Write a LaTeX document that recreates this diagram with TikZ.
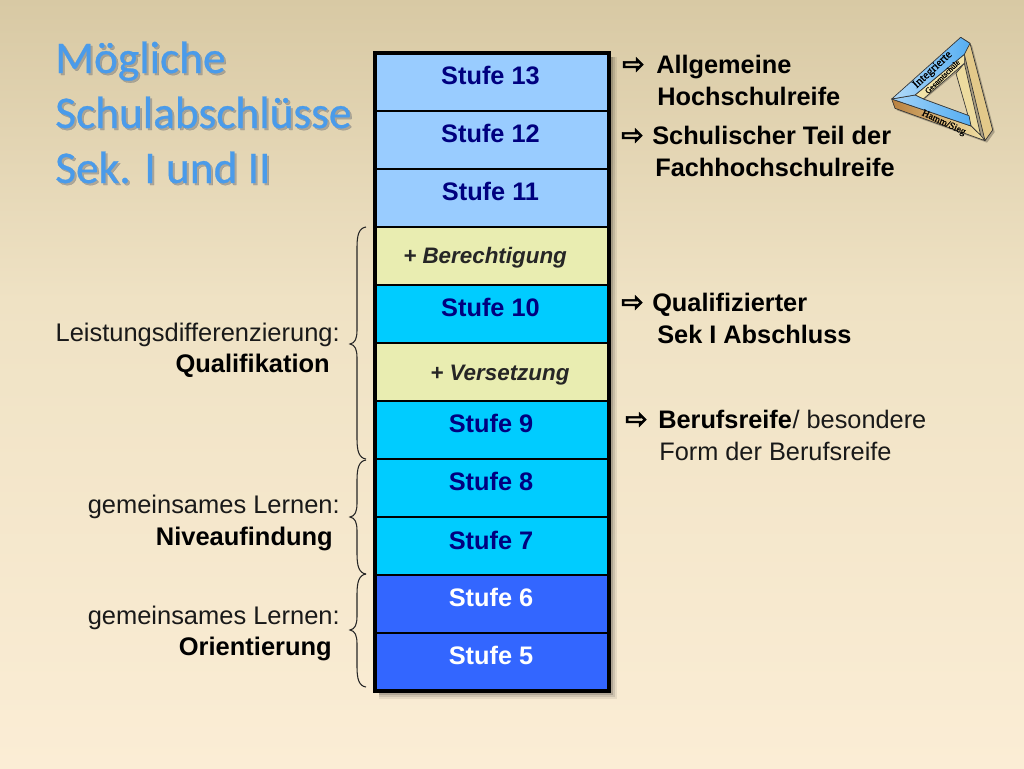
\documentclass[tikz,border=0pt]{standalone}
\usepackage{fontspec}
\setmainfont{Liberation Sans}
\newfontfamily\titlefont[FakeBold=0.6]{Carlito}
\newfontfamily\symfont[FakeBold=2]{DejaVu Sans}
\newfontfamily\logofont[FakeBold=1]{Liberation Serif}
\definecolor{bgtop}{HTML}{D8C9A4}
\definecolor{bgmid}{HTML}{EFE2C4}
\definecolor{bgbot}{HTML}{FBEDD5}
\definecolor{rowlight}{HTML}{99CCFF}
\definecolor{rowcream}{HTML}{E9EDB1}
\definecolor{rowcyan}{HTML}{00CCFF}
\definecolor{rowblue}{HTML}{3366FF}
\definecolor{navytext}{HTML}{00007F}
\definecolor{titleblue}{HTML}{4A9BEA}
\definecolor{logogold}{HTML}{E3C98A}
\definecolor{logobrown}{HTML}{B9803F}
\definecolor{logocream}{HTML}{F2E3A8}
\definecolor{logoblue}{HTML}{55AEF2}
\tikzset{
  x=0.75pt,y=-0.75pt,
  rowbox/.style={draw=black,line width=1.1pt,minimum width=175.5pt,minimum height=43.5pt,inner sep=0pt,outer sep=0pt,anchor=north west},
  stufe/.style={font=\fontsize{19}{19}\selectfont\bfseries,text=navytext,inner sep=0pt,anchor=base},
  stufew/.style={stufe,text=white},
  extra/.style={font=\fontsize{16.8}{17}\selectfont\bfseries\itshape,text=black!85,inner sep=0pt,anchor=base west},
  rtext/.style={font=\fontsize{19}{19}\selectfont\bfseries,text=black,inner sep=0pt,anchor=base west},
  rplain/.style={font=\fontsize{19}{19}\selectfont,text=black!90,inner sep=0pt,anchor=base west},
  ltext/.style={font=\fontsize{19.1}{19}\selectfont,text=black!90,inner sep=0pt,anchor=base east},
  lbold/.style={font=\fontsize{19.1}{19}\selectfont\bfseries,text=black,inner sep=0pt,anchor=base east},
  titletext/.style={font=\fontsize{34}{34}\selectfont\titlefont,inner sep=0pt,anchor=base west},
  bracecurve/.style={draw=black!85,line width=0.8pt},
  logoface/.style={draw=black!80,line width=0.5pt,line join=round},
  logotext/.style={text=black,inner sep=0pt}
}
\newcommand{\titleline}[3]{%
  \node[titletext,text=black!50,opacity=.55] at (#1+2,#2+2) {#3};
  \node[titletext,text=titleblue] (#3) at (#1,#2) {#3};}
\newcommand{\arrowglyph}[2]{\node[rtext] at (#1,#2) {{\symfont\fontsize{20}{20}\selectfont ⇨}};}
\newcommand{\curlybrace}[4]{% name, top, mid, bottom
  \coordinate (#1a) at (366,#2);
  \coordinate (#1b) at (350,#3);
  \coordinate (#1c) at (366,#4);
  \draw[bracecurve] (#1a) .. controls (359,#2+1) and (357,#2+8) .. (357,#2+20)
    -- (357,#3-14) .. controls (357,#3-5) and (355,#3-1) .. (#1b)
    .. controls (355,#3+1) and (357,#3+5) .. (357,#3+14)
    -- (357,#4-20) .. controls (357,#4-8) and (359,#4-1) .. (#1c);}
\begin{document}
\begin{tikzpicture}
\useasboundingbox (0,0) rectangle (1024,768);
\fill[top color=bgtop,bottom color=bgmid] (0,0) rectangle (1024,300);
\fill[top color=bgmid,bottom color=bgbot] (0,299.5) rectangle (1024,768);

% title
\titleline{55}{73}{Mögliche}
\titleline{55}{128}{Schulabschlüsse}
\titleline{55}{183}{Sek. I und II}

% shadow of the column
\fill[black,opacity=.07] (379,57) rectangle (617,699);
\fill[black,opacity=.10] (379,57) rectangle (615,697);
\fill[black,opacity=.15] (379,57) rectangle (613,695);

% column
\foreach \nm/\yy/\cc in {s13/53/rowlight,s12/111/rowlight,s11/169/rowlight,
  b/227/rowcream,s10/285/rowcyan,v/343/rowcream,s9/401/rowcyan,s8/459/rowcyan,
  s7/517/rowcyan,s6/575/rowblue,s5/633/rowblue}
  \node[rowbox,fill=\cc] (\nm) at (375,\yy) {};
\draw[black,line width=2.4pt] (s13.north west) rectangle (s5.south east);

\node[stufe] at (490.5,84) {Stufe 13};
\node[stufe] at (490.5,142) {Stufe 12};
\node[stufe] at (490.5,200) {Stufe 11};
\node[extra] at (403,263) {+ Berechtigung};
\node[stufe] at (490.5,316) {Stufe 10};
\node[extra] at (430,380) {+ Versetzung};
\node[stufe] at (491,432) {Stufe 9};
\node[stufe] at (491,490) {Stufe 8};
\node[stufe] at (491,549) {Stufe 7};
\node[stufew] at (491,606) {Stufe 6};
\node[stufew] at (491,664) {Stufe 5};

% braces
\curlybrace{ba}{227}{344}{459}
\curlybrace{bb}{460}{517}{574}
\curlybrace{bc}{574}{630}{687}

% left labels
\node[ltext] at (340,341) {Leistungsdifferenzierung:};
\node[lbold] at (330,372) {Qualifikation};
\node[ltext] at (340,513) {gemeinsames Lernen:};
\node[lbold] at (333,545) {Niveaufindung};
\node[ltext] at (340,624) {gemeinsames Lernen:};
\node[lbold] at (332,655) {Orientierung};

% right labels
\arrowglyph{622}{73}
\node[rtext] at (656,73) {Allgemeine};
\node[rtext] at (657,105) {Hochschulreife};
\arrowglyph{621}{144}
\node[rtext] at (652,144) {Schulischer Teil der};
\node[rtext] at (655,176) {Fachhochschulreife};
\arrowglyph{621}{311}
\node[rtext] at (652,311) {Qualifizierter};
\node[rtext] at (657,343) {Sek I Abschluss};
\arrowglyph{625}{428}
\node[rtext] (br) at (658,428) {Berufsreife};
\node[rplain,anchor=base west] at (br.base east) {/ besondere};
\node[rplain] at (659,460) {Form der Berufsreife};

% logo (impossible triangle)
\begin{scope}[shift={(870,20)},x=0.25pt,y=-0.25pt]
\fill[black,opacity=.25,even odd rule] (71,243) -- (278,58) -- (306,76) -- (374,336) -- (351,368) -- (81,271) -- cycle
   (165,237) -- (258,160) -- (297,287) -- cycle;
\fill[logogold,logoface] (272,52) -- (300,70) -- (368,330) -- (345,362) -- (283,103) -- cycle;
\fill[logocream!70!logogold,logoface] (283,130) -- (332,346) -- (303,318) -- (258,160) -- cycle;
\fill[logocream,logoface] (135,225) -- (283,103) -- (283,130) -- (160,237) -- cycle;
\shade[logoface,left color=logobrown,right color=logocream] (65,237) -- (303,318) -- (332,346) -- (345,362) -- (75,265) -- cycle;
\shade[logoface,left color=logoblue!55!white,right color=logoblue] (65,237) -- (135,225) -- (160,237) -- (297,287) -- (303,318) -- cycle;
\shade[logoface,left color=logoblue!45!white,right color=logoblue] (65,237) -- (272,52) -- (300,70) -- (283,103) -- (135,225) -- cycle;
\node[logotext,font=\fontsize{8.8}{9}\selectfont\logofont,rotate=43] at (188,150) {Integrierte};
\node[logotext,font=\fontsize{6}{6}\selectfont\logofont,rotate=44] at (217,170) {Gesamtschule};
\node[logotext,font=\fontsize{7.4}{8}\selectfont\logofont,rotate=-25] at (221,309) {Hamm/Sieg};
\end{scope}
\end{tikzpicture}
\end{document}
